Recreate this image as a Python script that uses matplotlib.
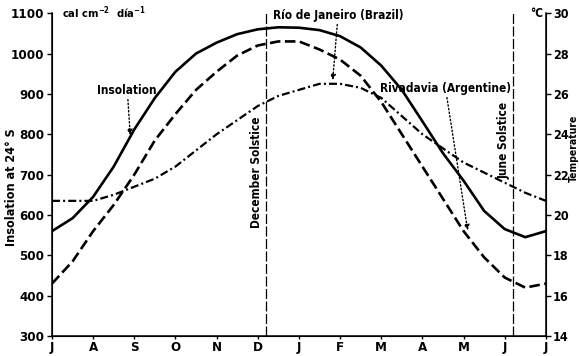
import numpy as np
import matplotlib
matplotlib.use('Agg')
import matplotlib.pyplot as plt
from matplotlib import font_manager as fm

# =============================================================================
# Font: pick a condensed sans if one is around
# =============================================================================

family, stretch = 'DejaVu Sans', 'condensed'
path = fm.findfont(fm.FontProperties(family='DejaVu Sans', stretch='condensed', weight='bold'))
if 'ondensed' not in path:
    names = {f.name for f in fm.fontManager.ttflist}
    if 'Liberation Sans Narrow' in names:
        family, stretch = 'Liberation Sans Narrow', 'normal'
    else:
        family, stretch = 'Roboto', 'normal'

plt.rcParams['font.family'] = [family, 'DejaVu Sans']
plt.rcParams['font.stretch'] = stretch
plt.rcParams['font.weight'] = 'bold'
plt.rcParams['axes.labelweight'] = 'bold'
plt.rcParams['font.size'] = 9.5
plt.rcParams['mathtext.fontset'] = 'custom'
plt.rcParams['mathtext.rm'] = family
plt.rcParams['mathtext.default'] = 'regular'

# =============================================================================
# Data (months from July = 0 to July = 12)
# =============================================================================

months = np.arange(0, 12.5, 0.5)
month_labels = ['J', 'A', 'S', 'O', 'N', 'D', 'J', 'F', 'M', 'A', 'M', 'J', 'J']

# insolation at 24 S, cal cm-2 day-1
insolation = [560, 592, 645, 720, 812, 890, 955, 1000, 1027, 1048, 1060, 1065, 1064,
              1058, 1043, 1015, 970, 910, 832, 753, 685, 610, 565, 545, 560]

# temperature, deg C
rio = [16.6, 17.7, 19.2, 20.5, 22.0, 23.7, 25.0, 26.2, 27.1, 27.9, 28.4, 28.6, 28.6,
       28.2, 27.7, 26.9, 25.6, 24.0, 22.4, 20.8, 19.2, 17.9, 16.9, 16.4, 16.6]
rivadavia = [20.7, 20.7, 20.7, 21.0, 21.4, 21.8, 22.4, 23.2, 24.0, 24.7, 25.4, 25.9, 26.2,
             26.5, 26.5, 26.3, 25.8, 24.9, 24.0, 23.3, 22.6, 22.1, 21.6, 21.1, 20.7]

dec_solstice = 5.2
jun_solstice = 11.2

# =============================================================================
# Plot
# =============================================================================

fig = plt.figure(figsize=(5.79, 3.56), dpi=100)
ax = fig.add_axes([0.0898, 0.056, 0.853, 0.907])
ax2 = ax.twinx()

ax.plot(months, insolation, color='black', lw=1.9)
ax2.plot(months, rio, color='black', lw=1.9, dashes=(4, 1.7))
ax2.plot(months, rivadavia, color='black', lw=1.6, dashes=(3.6, 1.4, 0.9, 1.4))

for xs in [dec_solstice, jun_solstice]:
    ax.axvline(xs, color='black', lw=0.9, dashes=(8, 2))

ax.set_xlim(0, 12)
ax.set_ylim(300, 1100)
ax2.set_ylim(14, 30)

ax.set_xticks(np.arange(13), month_labels)
ax.set_yticks(np.arange(300, 1101, 100))
ax2.set_yticks(np.arange(14, 31, 2))

for a in [ax, ax2]:
    a.spines['top'].set_visible(False)
    a.tick_params(length=3.5, width=1, pad=2)
ax.tick_params(axis='x', length=2.5, pad=1)
ax2.tick_params(labelsize=9, pad=1.5)
ax.spines['left'].set_linewidth(1.1)
ax.spines['bottom'].set_linewidth(1.1)
ax2.spines['right'].set_linewidth(1.1)

ax.set_ylabel('Insolation at 24° S', fontsize=9)
ax.yaxis.set_label_coords(-0.068, 0.46)
ax2.set_ylabel('Temperature', fontsize=7.5)
ax2.yaxis.set_label_coords(1.0465, 0.58)

ax.text(0.02, 1.0, 'cal cm$^{-2}$  día$^{-1}$', transform=ax.transAxes,
        ha='left', va='center', fontsize=8)
ax.text(0.995, 1.0, '°C', transform=ax.transAxes, ha='right', va='center', fontsize=8.5)

# annotations
arrow = dict(arrowstyle='-|>', ls=':', lw=1, color='black', mutation_scale=8,
             shrinkA=0, shrinkB=0)
ax.annotate('Insolation', xy=(1.9, 798), xytext=(1.83, 909), ha='center', va='center',
            fontsize=8.5, arrowprops=arrow)
ax.annotate('Río de Janeiro (Brazil)', xy=(6.82, 934), xytext=(6.95, 1095),
            ha='center', va='center', fontsize=8.5, arrowprops=arrow)
ax.annotate('Rivadavia (Argentine)', xy=(10.1, 562), xytext=(9.56, 914),
            ha='center', va='center', fontsize=8.5, arrowprops=arrow)

ax.text(dec_solstice - 0.07, 706, 'December Solstice', rotation=90, ha='right',
        va='center', fontsize=8.5)
ax.text(jun_solstice - 0.07, 785, 'June Solstice', rotation=90, ha='right',
        va='center', fontsize=8.5)

plt.savefig('out.png', dpi=100)
